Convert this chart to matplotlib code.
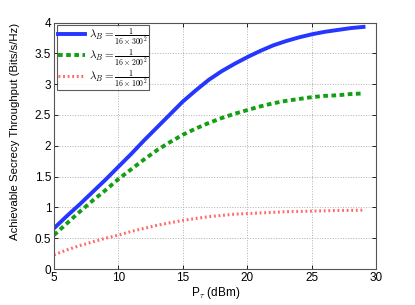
import matplotlib
matplotlib.use('Agg')
import matplotlib.pyplot as plt

plt.rcParams['font.family'] = ['Liberation Sans', 'DejaVu Sans']
plt.rcParams['mathtext.fontset'] = 'cm'

# transmit power (dBm)
p_tx = list(range(5, 30))

# secrecy throughput for each eavesdropper density
thr_300 = [0.66, 0.86, 1.05, 1.25, 1.45, 1.66, 1.87, 2.09, 2.30, 2.51, 2.72, 2.90, 3.07,
           3.21, 3.33, 3.44, 3.54, 3.63, 3.70, 3.76, 3.81, 3.85, 3.88, 3.91, 3.93]
thr_200 = [0.55, 0.74, 0.93, 1.11, 1.28, 1.46, 1.62, 1.78, 1.93, 2.06, 2.18, 2.28, 2.37,
           2.45, 2.52, 2.58, 2.64, 2.69, 2.73, 2.76, 2.79, 2.81, 2.82, 2.84, 2.85]
thr_100 = [0.23, 0.31, 0.38, 0.44, 0.50, 0.55, 0.61, 0.66, 0.71, 0.75, 0.79, 0.82, 0.85,
           0.87, 0.89, 0.90, 0.91, 0.92, 0.93, 0.935, 0.94, 0.945, 0.95, 0.952, 0.955]

labels = [r'$\lambda_B = \frac{1}{16\times300^2}$',
          r'$\lambda_B = \frac{1}{16\times200^2}$',
          r'$\lambda_B = \frac{1}{16\times100^2}$']

fig = plt.figure(figsize=(4.15, 3.05), dpi=100)
ax = fig.add_axes([0.130, 0.118, 0.777, 0.808])

ax.plot(p_tx, thr_300, color='#2436ff', linestyle='-', linewidth=2.8, label=labels[0])
ax.plot(p_tx, thr_200, color='#12a012', linestyle=(0, (1.2, 0.9)), linewidth=2.8, label=labels[1])
ax.plot(p_tx, thr_100, color='#ff6a6a', linestyle=(0, (0.6, 0.9)), linewidth=2.2, label=labels[2])

ax.set_xlim(5, 30)
ax.set_ylim(0, 4)
ax.set_xticks([5, 10, 15, 20, 25, 30])
ax.set_yticks([0, 0.5, 1, 1.5, 2, 2.5, 3, 3.5, 4])
ax.set_yticklabels(['0', '0.5', '1', '1.5', '2', '2.5', '3', '3.5', '4'])
ax.tick_params(direction='in', top=True, right=True, labelsize=8.5, length=3, width=0.6, pad=2)
ax.grid(True, linestyle=':', color='#b0b0b0', linewidth=0.7)
for s in ax.spines.values():
    s.set_color('#555555')
    s.set_linewidth(0.8)

ax.set_xlabel(r'P$_\tau$ (dBm)', fontsize=8.5, labelpad=1)
ax.set_ylabel('Achievable Secrecy Throughput (Bits/s/Hz)', fontsize=8.2)
ax.yaxis.set_label_coords(-0.105, 0.56)

leg = ax.legend(loc='upper left', fontsize=8, frameon=True, fancybox=False,
                borderaxespad=0.25, handlelength=2.4, labelspacing=0.0,
                borderpad=0.1, handletextpad=0.4)
leg.get_frame().set_edgecolor('#333333')
leg.get_frame().set_linewidth(0.8)

fig.savefig('out.png', dpi=100)
